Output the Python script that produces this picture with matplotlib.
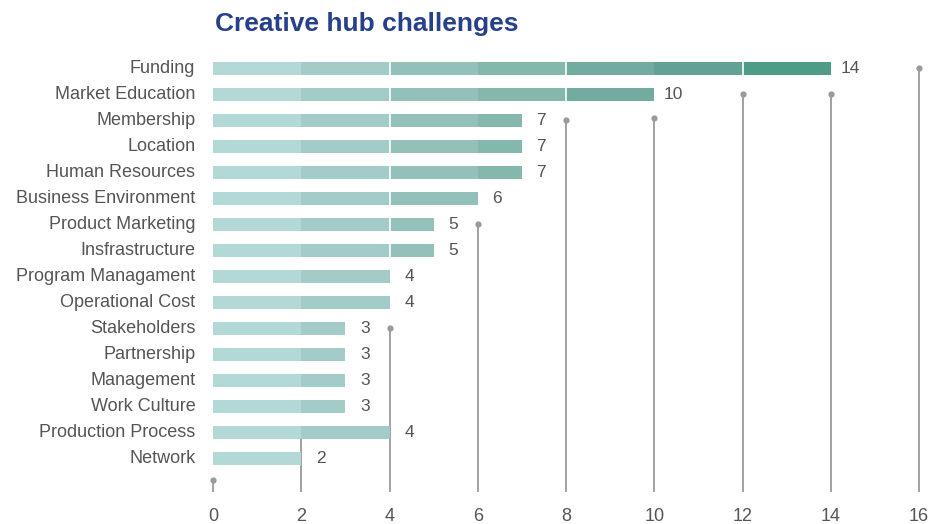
import matplotlib.pyplot as plt

plt.rcParams['font.family'] = ['Liberation Sans', 'DejaVu Sans']

# Challenge counts reported by creative hubs
categories = ['Funding', 'Market Education', 'Membership', 'Location',
              'Human Resources', 'Business Environment', 'Product Marketing',
              'Insfrastructure', 'Program Managament', 'Operational Cost',
              'Stakeholders', 'Partnership', 'Management', 'Work Culture',
              'Production Process', 'Network']
counts = [14, 10, 7, 7, 7, 6, 5, 5, 4, 4, 3, 3, 3, 3, 4, 2]

x_ticks = [0, 2, 4, 6, 8, 10, 12, 14, 16]
# row position where each vertical guide line ends (dot marker)
guide_tops = [15.85, 14, 10, 6, 2, 1.9, 1, 1, 0]

band_colors = ['#b3d9d6', '#a3ccc8', '#93c1ba', '#84b8ad',
               '#72aba0', '#61a294', '#4e9c88']
TEXT = '#555555'
GUIDE = '#9a9a9a'

fig = plt.figure(figsize=(9.34, 5.24), dpi=100)
ax = fig.add_axes([213 / 934, 1 - 497 / 524, 706 / 934, 445 / 524])
ax.set_xlim(0, 16)
ax.set_ylim(16.5, -0.62)

rows = list(range(len(categories)))
bar_h = 0.5

# vertical guides with a dot on top
ax.vlines(x_ticks, guide_tops, 16.3, color=GUIDE, lw=1.3, zorder=1, clip_on=False)
ax.scatter(x_ticks, guide_tops, s=12, color=GUIDE, zorder=1, clip_on=False)

# bars built from 2-unit colour bands
for y, v in zip(rows, counts):
    for k, c in enumerate(band_colors):
        start = 2 * k
        if v <= start:
            break
        ax.barh(y, min(2, v - start), left=start, height=bar_h, color=c,
                lw=0, zorder=2)
    for b in (4, 8, 12):
        if v > b:
            ax.vlines(b, y - bar_h / 2, y + bar_h / 2, color='white', lw=1.2, zorder=3)
    ax.annotate(str(v), xy=(v, y), xytext=(14, 0), textcoords='offset points',
                ha='center', va='center', fontsize=12.5, color=TEXT)
    ax.text(-0.4, y, categories[y], ha='right', va='center',
            fontsize=13, color=TEXT)

ax.set_yticks([])
ax.set_xticks(x_ticks)
ax.set_xticklabels([str(t) for t in x_ticks], fontsize=13, color=TEXT)
ax.tick_params(axis='x', length=0, pad=8)
for s in ax.spines.values():
    s.set_visible(False)

fig.text(215 / 934, 1 - 24 / 524, 'Creative hub challenges', fontsize=19,
         weight='bold', color='#26408b', ha='left', va='center')

fig.savefig('out.png', dpi=100, facecolor='white')
